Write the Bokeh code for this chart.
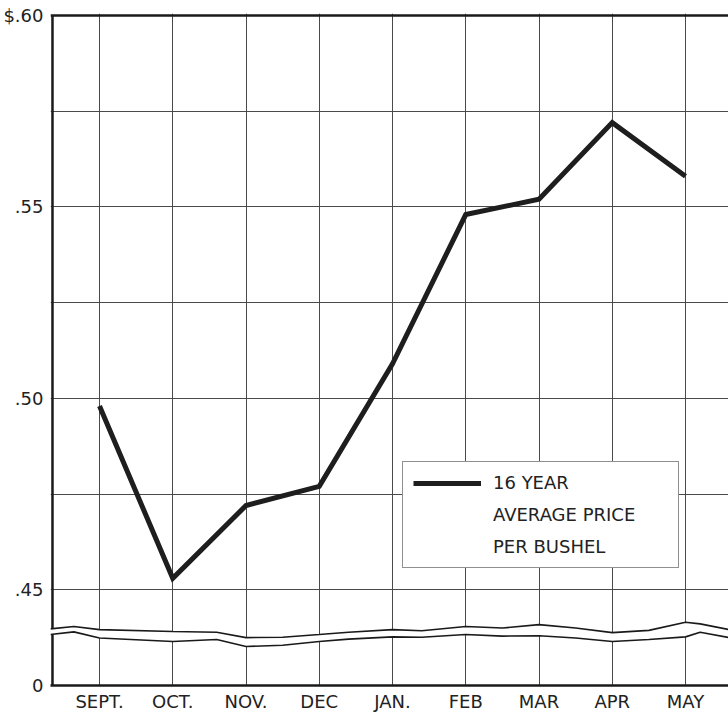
from bokeh.plotting import figure
from bokeh.models import FixedTicker, Span, Legend, LegendItem, Range1d
from bokeh.embed import file_html
from bokeh.resources import INLINE

# ---------------- data ----------------
months = ["SEPT.", "OCT.", "NOV.", "DEC", "JAN.", "FEB", "MAR", "APR", "MAY"]
month_x = [1, 2, 3, 4, 5, 6, 7, 8, 9]
price = [0.498, 0.453, 0.472, 0.477, 0.509, 0.548, 0.552, 0.572, 0.558]

y_ticks = [0.425, 0.45, 0.50, 0.55, 0.60]
y_tick_labels = ["0", ".45", ".50", ".55", "$.60"]
grid_y = [0.45, 0.475, 0.50, 0.525, 0.55, 0.575]

# hand-drawn axis break (wavy band between .45 and 0)
break_x = [0.33, 0.65, 1.0, 2.0, 2.6, 3.0, 3.5, 4.0, 4.4, 5.0, 5.4, 6.0, 6.5, 7.0,
           7.5, 8.0, 8.5, 9.0, 9.2, 9.6]
break_upper = [0.4398, 0.4404, 0.4396, 0.4391, 0.4389, 0.4375, 0.4376, 0.4383, 0.4389,
               0.4396, 0.4393, 0.4404, 0.4400, 0.4409, 0.4400, 0.4388, 0.4394, 0.4415,
               0.4411, 0.4396]
break_lower = [0.4383, 0.4390, 0.4374, 0.4365, 0.4370, 0.4352, 0.4355, 0.4365, 0.4371,
               0.4377, 0.4376, 0.4383, 0.4379, 0.4380, 0.4374, 0.4365, 0.4370, 0.4377,
               0.4389, 0.4375]

legend_lines = ["16 YEAR", "AVERAGE PRICE", "PER BUSHEL"]

# ---------------- layout ----------------
X_LO, X_HI = 0.331, 9.587
Y_LO, Y_HI = 0.425, 0.6005
BORDER_X = 0.358
FONT = "DejaVu Sans"
INK = "#1a1a1a"
GRID = "#4a4a4a"
LABEL = "#222222"

p = figure(width=728, height=714, output_backend="svg", toolbar_location=None,
           x_range=Range1d(X_LO, X_HI), y_range=Range1d(Y_LO, Y_HI),
           min_border_left=50, min_border_right=0, min_border_top=13,
           min_border_bottom=27)
p.outline_line_color = None
p.background_fill_color = "white"
p.border_fill_color = "white"

# x axis
p.xaxis.ticker = FixedTicker(ticks=month_x)
p.xaxis.major_label_overrides = {x: m for x, m in zip(month_x, months)}
p.xaxis.axis_line_width = 2.5
p.xaxis.axis_line_color = INK
p.xaxis.major_tick_line_color = None
p.xaxis.major_tick_out = 0
p.xaxis.major_tick_in = 0
p.xaxis.minor_tick_line_color = None
p.xaxis.minor_tick_out = 0
p.xaxis.major_label_standoff = 5
p.xaxis.major_label_text_font = FONT
p.xaxis.major_label_text_font_size = "18px"
p.xaxis.major_label_text_color = LABEL

# y axis
p.yaxis.ticker = FixedTicker(ticks=y_ticks)
p.yaxis.major_label_overrides = {y: t for y, t in zip(y_ticks, y_tick_labels)}
p.yaxis.axis_line_color = None
p.yaxis.major_tick_line_color = None
p.yaxis.major_tick_out = 0
p.yaxis.major_tick_in = 0
p.yaxis.minor_tick_line_color = None
p.yaxis.minor_tick_out = 0
p.yaxis.major_label_standoff = 7
p.yaxis.major_label_text_font = FONT
p.yaxis.major_label_text_font_size = "18px"
p.yaxis.major_label_text_color = LABEL

# grid
p.xgrid.ticker = FixedTicker(ticks=month_x)
p.xgrid.grid_line_color = GRID
p.xgrid.grid_line_width = 1
p.ygrid.ticker = FixedTicker(ticks=grid_y)
p.ygrid.grid_line_color = GRID
p.ygrid.grid_line_width = 1

# top border
p.add_layout(Span(location=y_ticks[-1], dimension="width", line_color=INK, line_width=2.5))

# axis break band
p.varea(x=break_x, y1=break_lower, y2=break_upper, fill_color="white")
p.line(break_x, break_upper, line_color=INK, line_width=1.6)
p.line(break_x, break_lower, line_color=INK, line_width=1.6)

# left border, interrupted by the break
p.segment(x0=[BORDER_X, BORDER_X], y0=[y_ticks[-1], break_lower[0]],
          x1=[BORDER_X, BORDER_X], y1=[break_upper[0], Y_LO],
          line_color=INK, line_width=2.5)

# main series
main = p.line(month_x, price, line_color="#1e1e1e", line_width=5, line_join="miter")
ghost = p.line(month_x, price, line_alpha=0)

legend = Legend(items=[LegendItem(label=legend_lines[0], renderers=[main]),
                       LegendItem(label=legend_lines[1], renderers=[ghost]),
                       LegendItem(label=legend_lines[2], renderers=[ghost])],
                location=(352, 117))
legend.border_line_color = "#222222"
legend.border_line_width = 1.5
legend.background_fill_color = "white"
legend.background_fill_alpha = 1
legend.padding = 10
legend.margin = 0
legend.glyph_width = 68
legend.glyph_height = 20
legend.label_standoff = 12
legend.spacing = 11
legend.label_width = 175
legend.label_text_font = FONT
legend.label_text_font_size = "18px"
legend.label_text_color = LABEL
p.add_layout(legend, "center")

open("out.html", "w").write(file_html(p, INLINE))
